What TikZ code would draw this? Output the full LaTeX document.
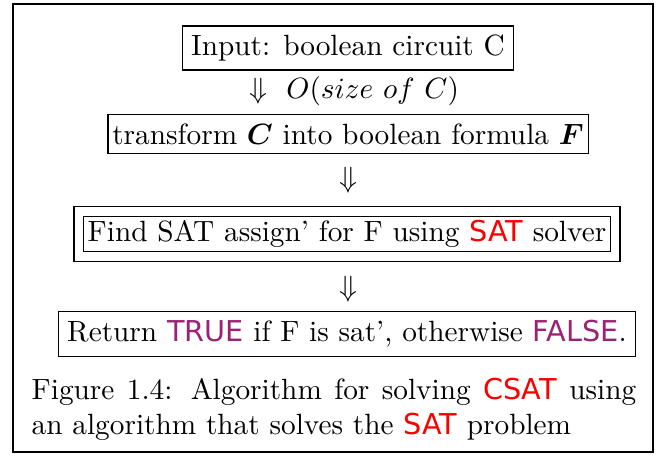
\documentclass[tikz,border=0pt]{standalone}
\usepackage{amsmath}
\usepackage{fontspec}
\newfontfamily\sansdv[Scale=0.98]{DejaVu Sans}
\definecolor{satred}{RGB}{250,0,0}
\definecolor{boolpurple}{RGB}{155,35,115}
\newcommand{\satname}[1]{{\sansdv\color{satred}#1}}
\newcommand{\boolname}[1]{{\sansdv\color{boolpurple}#1}}

\begin{document}
\begin{tikzpicture}[x=0.012cm,y=-0.012cm]
    \tikzset{stepbox/.style = {draw,inner sep=3pt,minimum height=13pt}}
    \tikzset{doublebox/.style = {stepbox,double,double distance=3pt,minimum height=14pt}}
    \tikzset{darrow/.style = {inner sep=1pt}}
    \useasboundingbox (0,0) rectangle (662,455);
    \draw (13,4) rectangle (653,452);
    \node[stepbox] (input) at (348,48) {Input: boolean circuit C};
    \node[darrow] (a1) at (258,91) {$\Downarrow$};
    \node[anchor=west] (cost) at (276,91) {$O(size\ of\ C)$};
    \node[stepbox,inner xsep=1.5pt] (trans) at (348,134) {transform $\boldsymbol{C}$ into boolean formula $\boldsymbol{F}$};
    \node[darrow] (a2) at (348,180) {$\Downarrow$};
    \node[doublebox] (solve) at (347,234) {Find SAT assign' for F using \satname{SAT} solver};
    \node[darrow] (a3) at (348,289) {$\Downarrow$};
    \node[stepbox] (ret) at (347,334) {Return \boolname{TRUE} if F is sat', otherwise \boolname{FALSE}.};
    \node[text width=7.25cm,align=justify,inner sep=0pt] (caption) at (334,409)
        {Figure 1.4: Algorithm for solving \satname{CSAT} using an algorithm that solves the \satname{SAT} problem};
\end{tikzpicture}
\end{document}
